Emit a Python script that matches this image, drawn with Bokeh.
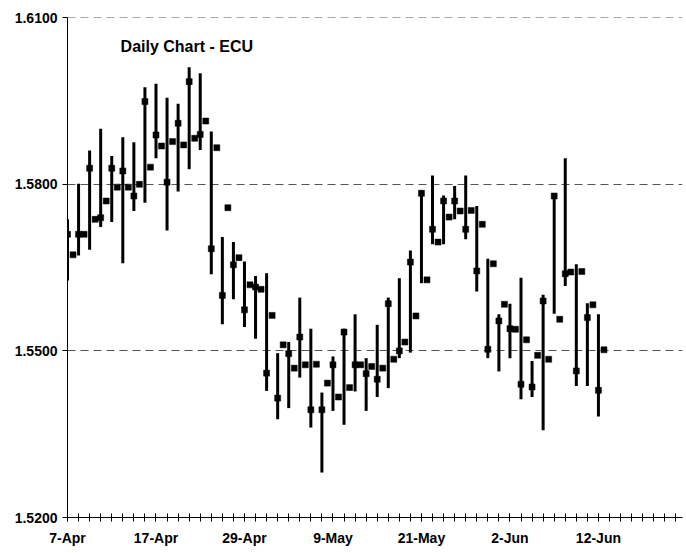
from bokeh.plotting import figure
from bokeh.models import Range1d, FixedTicker, Label, PrintfTickFormatter, ColumnDataSource
from bokeh.embed import file_html
from bokeh.resources import INLINE

# ---- data ----
days = ["7-Apr", "8-Apr", "9-Apr", "10-Apr", "11-Apr",
        "14-Apr", "15-Apr", "16-Apr", "17-Apr", "18-Apr",
        "21-Apr", "22-Apr", "23-Apr", "24-Apr", "25-Apr",
        "28-Apr", "29-Apr", "30-Apr", "1-May", "2-May",
        "5-May", "6-May", "7-May", "8-May", "9-May",
        "12-May", "13-May", "14-May", "15-May", "16-May",
        "19-May", "20-May", "21-May", "22-May", "23-May",
        "26-May", "27-May", "28-May", "29-May", "30-May",
        "2-Jun", "3-Jun", "4-Jun", "5-Jun", "6-Jun",
        "9-Jun", "10-Jun", "11-Jun", "12-Jun"]

high = [1.5737, 1.5801, 1.5861, 1.5900, 1.5851, 1.5885, 1.5876, 1.5975, 1.5981, 1.5956,
        1.5945, 1.6011, 1.6000, 1.5895, 1.5705, 1.5696, 1.5661, 1.5635, 1.5640, 1.5496,
        1.5516, 1.5596, 1.5540, 1.5425, 1.5490, 1.5540, 1.5566, 1.5487, 1.5547, 1.5596,
        1.5631, 1.5681, 1.5789, 1.5816, 1.5780, 1.5797, 1.5816, 1.5761, 1.5666, 1.5566,
        1.5585, 1.5632, 1.5482, 1.5601, 1.5782, 1.5847, 1.5656, 1.5586, 1.5566]

low = [1.5627, 1.5672, 1.5682, 1.5723, 1.5732, 1.5658, 1.5752, 1.5767, 1.5847, 1.5717,
       1.5787, 1.5827, 1.5862, 1.5638, 1.5548, 1.5593, 1.5543, 1.5522, 1.5428, 1.5377,
       1.5397, 1.5452, 1.5362, 1.5281, 1.5392, 1.5367, 1.5427, 1.5392, 1.5417, 1.5433,
       1.5487, 1.5497, 1.5622, 1.5692, 1.5692, 1.5737, 1.5701, 1.5607, 1.5487, 1.5463,
       1.5487, 1.5413, 1.5417, 1.5357, 1.5567, 1.5617, 1.5437, 1.5437, 1.5382]

close = [1.5710, 1.5710, 1.5829, 1.5740, 1.5829, 1.5824, 1.5779, 1.5949, 1.5889, 1.5804,
         1.5910, 1.5985, 1.5890, 1.5684, 1.5600, 1.5655, 1.5574, 1.5615, 1.5460, 1.5415,
         1.5495, 1.5525, 1.5394, 1.5394, 1.5475, 1.5534, 1.5475, 1.5459, 1.5449, 1.5585,
         1.5500, 1.5660, 1.5784, 1.5719, 1.5770, 1.5770, 1.5719, 1.5644, 1.5503, 1.5554,
         1.5540, 1.5440, 1.5435, 1.5590, 1.5779, 1.5639, 1.5464, 1.5560, 1.5429]

# second quote of each day, drawn as a lone marker half a day later
late_quote = [1.5673, 1.5710, 1.5737, 1.5770, 1.5795, 1.5795, 1.5800, 1.5831, 1.5869, 1.5877,
              1.5871, 1.5883, 1.5914, 1.5866, 1.5758, 1.5668, 1.5619, 1.5611, 1.5564, 1.5511,
              1.5469, 1.5475, 1.5476, 1.5442, 1.5417, 1.5434, 1.5475, 1.5472, 1.5469, 1.5485,
              1.5516, 1.5563, 1.5628, 1.5696, 1.5741, 1.5752, 1.5753, 1.5728, 1.5657, 1.5584,
              1.5539, 1.5520, 1.5492, 1.5485, 1.5557, 1.5642, 1.5643, 1.5583, 1.5502]

tick_labels = ["7-Apr", "17-Apr", "29-Apr", "9-May", "21-May", "2-Jun", "12-Jun"]
y_ticks = [1.52, 1.55, 1.58, 1.61]
title_text = "Daily Chart - ECU"

# ---- build ----
n = len(days)
idx = list(range(n))
src = ColumnDataSource(dict(x=idx, high=high, low=low, close=close,
                            xl=[i + 0.5 for i in idx], late=late_quote))

p = figure(width=686, height=553, output_backend="svg", toolbar_location=None,
           x_range=Range1d(0, 55.6), y_range=Range1d(1.52, 1.61005),
           min_border_left=67, min_border_right=4, min_border_top=17, min_border_bottom=36)
p.outline_line_color = None
p.background_fill_color = "white"
p.border_fill_color = "white"

p.segment(x0="x", y0="low", x1="x", y1="high", source=src, line_width=3, line_color="black")
p.scatter(x="x", y="close", source=src, marker="square", size=6,
          fill_color="black", line_color="black", line_width=0.5)
p.scatter(x="xl", y="late", source=src, marker="square", size=6,
          fill_color="black", line_color="black", line_width=0.5)

# x axis
tick_pos = [days.index(t) for t in tick_labels]
p.xaxis.ticker = FixedTicker(ticks=tick_pos, minor_ticks=list(range(0, 56)))
p.xaxis.major_label_overrides = {pos: lab for pos, lab in zip(tick_pos, tick_labels)}
p.xaxis.major_tick_in = 4
p.xaxis.major_tick_out = 4
p.xaxis.minor_tick_in = 4
p.xaxis.minor_tick_out = 4
p.xaxis.major_label_standoff = 8
p.xaxis.axis_line_color = "black"
p.xaxis.major_tick_line_color = "black"
p.xaxis.minor_tick_line_color = "black"
p.xaxis.minor_tick_line_width = 1
p.xaxis.major_tick_line_width = 1

# y axis
p.yaxis.ticker = FixedTicker(ticks=y_ticks, minor_ticks=[])
p.yaxis.formatter = PrintfTickFormatter(format="%.4f")
p.yaxis.major_tick_in = 0
p.yaxis.major_tick_out = 5
p.yaxis.minor_tick_line_color = None
p.yaxis.major_label_standoff = 5
p.yaxis.axis_line_color = "black"
p.yaxis.major_tick_line_color = "black"

for ax in (p.xaxis, p.yaxis):
    ax.major_label_text_font = "Liberation Sans"
    ax.major_label_text_font_style = "bold"
    ax.major_label_text_font_size = "14px"
    ax.major_label_text_color = "black"

p.xgrid.grid_line_color = None
p.ygrid.ticker = FixedTicker(ticks=y_ticks[1:])
p.ygrid.grid_line_color = "#555555"
p.ygrid.grid_line_dash = "8 5"
p.ygrid.grid_line_width = 1

p.add_layout(Label(x=4.8, y=1.6048, text=title_text, text_font="Liberation Sans",
                   text_font_style="bold", text_font_size="16px", text_baseline="middle",
                   text_color="black"))

open("out.html", "w").write(file_html(p, INLINE))
